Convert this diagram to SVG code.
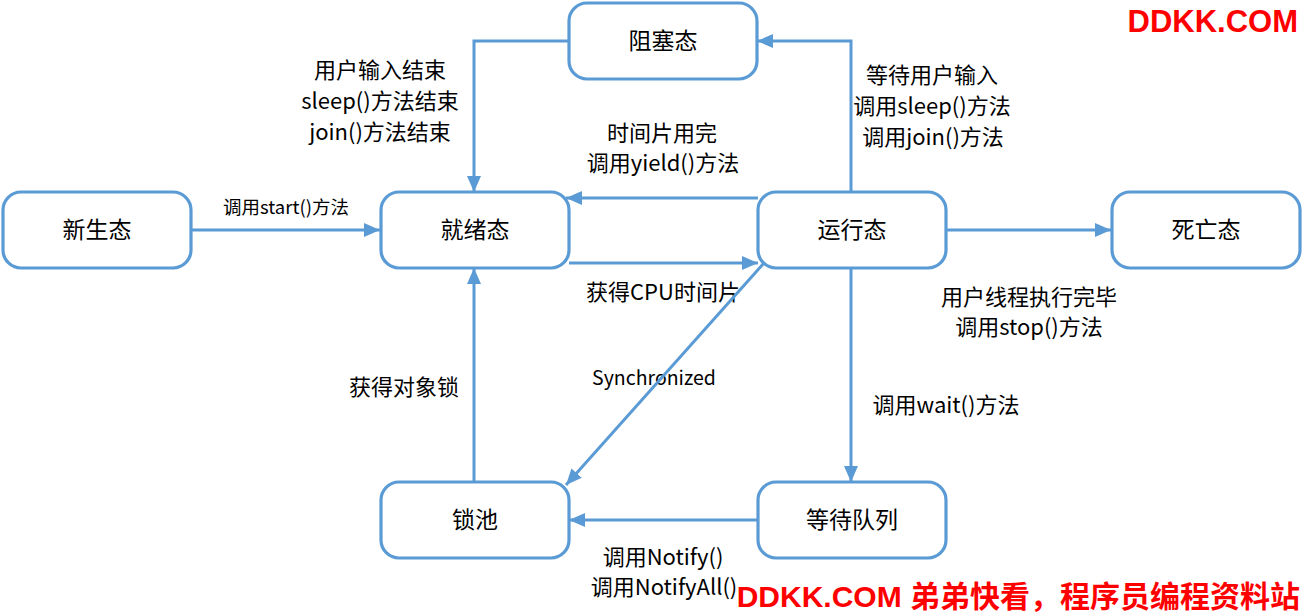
<svg xmlns="http://www.w3.org/2000/svg" width="1303" height="614" viewBox="0 0 1303 614">
<style>
.node rect{fill:#fff;stroke:#5B9BD5;stroke-width:3.2}
.nt{font-family:"Noto Sans CJK SC","Noto Sans",sans-serif;font-size:23px;fill:#000;text-anchor:middle}
.lb{font-family:"Noto Sans CJK SC","Noto Sans",sans-serif;font-size:22px;fill:#000;text-anchor:middle}
.sm{font-size:18.5px}
.conn path{fill:none;stroke:#5B9BD5;stroke-width:3;marker-end:url(#arr)}
.wm{font-family:"Liberation Sans","Noto Sans CJK SC",sans-serif;font-weight:bold;fill:#FF0000;font-size:30px}
</style>
<defs>
<marker id="arr" viewBox="0 0 16 14" refX="16" refY="7" markerWidth="16" markerHeight="14" markerUnits="userSpaceOnUse" orient="auto">
<path d="M0,0 L16,7 L0,14 z" fill="#5B9BD5"/>
</marker>
</defs>
<rect width="1303" height="614" fill="#fff"/>
<g id="labels">
<text class="lb sm" x="286" y="214">调用start()方法</text>
<text class="lb" x="380" y="78">用户输入结束</text>
<text class="lb" x="380" y="109">sleep()方法结束</text>
<text class="lb" x="380" y="140">join()方法结束</text>
<text class="lb" x="932" y="83">等待用户输入</text>
<text class="lb" x="932" y="114">调用sleep()方法</text>
<text class="lb" x="933" y="145">调用join()方法</text>
<text class="lb" x="662" y="141">时间片用完</text>
<text class="lb" x="663" y="171">调用yield()方法</text>
<text class="lb" x="663" y="300">获得CPU时间片</text>
<text class="lb" x="1029" y="305">用户线程执行完毕</text>
<text class="lb" x="1029" y="335">调用stop()方法</text>
<text class="lb" x="654" y="385" style="font-size:19.5px">Synchronized</text>
<text class="lb" x="404" y="395">获得对象锁</text>
<text class="lb" x="946" y="413">调用wait()方法</text>
<text class="lb" x="663" y="565">调用Notify()</text>
<text class="lb" x="664" y="595">调用NotifyAll()</text>
</g>
<g id="connectors" class="conn">
<path d="M192,230 H380"/>
<path d="M569,41 H474 V192"/>
<path d="M851,192 V41 H757"/>
<path d="M758,198 H566"/>
<path d="M569,263 H758"/>
<path d="M946,230 H1111"/>
<path d="M851,268 V482"/>
<path d="M758,520 H569"/>
<path d="M474,482 V268"/>
<path d="M764,263 L566,485"/>
</g>
<g id="n-new" class="node"><rect x="3" y="192" width="188" height="76" rx="18"/><text class="nt" x="97" y="238">新生态</text></g>
<g id="n-ready" class="node"><rect x="381" y="192" width="188" height="76" rx="18"/><text class="nt" x="475" y="238">就绪态</text></g>
<g id="n-blocked" class="node"><rect x="569" y="3" width="188" height="76" rx="18"/><text class="nt" x="663" y="49">阻塞态</text></g>
<g id="n-running" class="node"><rect x="758" y="192" width="188" height="76" rx="18"/><text class="nt" x="852" y="238">运行态</text></g>
<g id="n-dead" class="node"><rect x="1112" y="192" width="188" height="76" rx="18"/><text class="nt" x="1206" y="238">死亡态</text></g>
<g id="n-lock" class="node"><rect x="381" y="482" width="188" height="76" rx="18"/><text class="nt" x="475" y="528">锁池</text></g>
<g id="n-wait" class="node"><rect x="758" y="482" width="188" height="76" rx="18"/><text class="nt" x="852" y="528">等待队列</text></g>
<g id="watermarks">
<text class="wm" x="1298" y="32" text-anchor="end" style="font-size:31px">DDKK.COM</text>
<text class="wm" x="1300" y="607" text-anchor="end">DDKK.COM 弟弟快看，程序员编程资料站</text>
</g>
</svg>
